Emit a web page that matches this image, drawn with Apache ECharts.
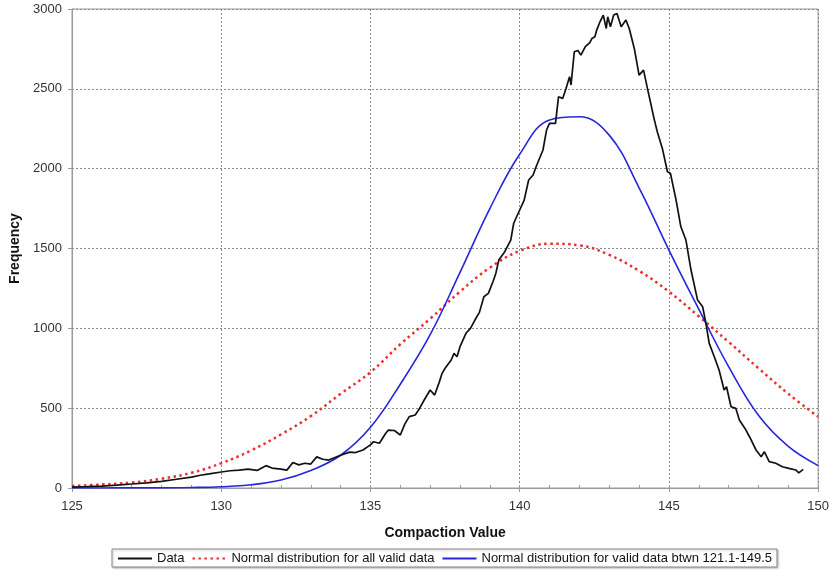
<!DOCTYPE html>
<html>
<head>
<meta charset="utf-8">
<script src="https://cdn.jsdelivr.net/npm/echarts@6/dist/echarts.min.js"></script>
<style>
  html, body { margin: 0; padding: 0; background: #fff; }
  #chart { width: 832px; height: 571px; }
</style>
</head>
<body>
<div id="chart"></div>
<script>
// Measured frequency per compaction value
var compactionX = [
  125.0, 125.5, 126.0, 126.5, 127.0, 127.5, 128.0, 128.5, 129.0, 129.3, 129.6, 130.0, 130.3, 130.6, 130.9,
  131.2, 131.5, 131.7, 132.0, 132.2, 132.4, 132.6, 132.8, 133.0, 133.2, 133.4, 133.6, 134.0, 134.3, 134.5,
  134.75, 135.0, 135.1, 135.3, 135.5, 135.6, 135.8, 136.0, 136.15, 136.3, 136.5, 136.65, 136.8, 137.0, 137.15,
  137.3, 137.4, 137.5, 137.7, 137.8, 137.9, 138.0, 138.2, 138.35, 138.5, 138.65, 138.8, 138.95, 139.1, 139.2,
  139.3, 139.5, 139.7, 139.8, 140.0, 140.15, 140.3, 140.45, 140.55, 140.78, 140.9, 141.0, 141.2, 141.3, 141.44,
  141.55, 141.67, 141.72, 141.83, 141.95, 142.05, 142.2, 142.35, 142.42, 142.52, 142.58, 142.69, 142.8, 142.9, 142.95,
  143.04, 143.15, 143.26, 143.4, 143.56, 143.67, 143.84, 144.0, 144.15, 144.28, 144.5, 144.61, 144.78, 144.95, 145.05,
  145.24, 145.4, 145.57, 145.74, 145.96, 146.13, 146.24, 146.35, 146.4, 146.52, 146.68, 146.85, 146.93, 147.08, 147.24,
  147.36, 147.58, 147.7, 147.92, 148.09, 148.2, 148.36, 148.58, 148.8, 149.02, 149.25, 149.35, 149.5
];
var dataFrequency = [
  5, 8, 12, 18, 25, 32, 42, 55, 68, 80, 88, 100, 108, 112, 118,
  110, 140, 125, 118, 112, 160, 145, 155, 150, 195, 180, 175, 205, 225, 222,
  238, 270, 290, 280, 340, 363, 360, 332, 400, 447, 457, 500, 551, 614, 582,
  660, 718, 750, 800, 843, 822, 885, 969, 1000, 1052, 1100, 1198, 1219, 1290, 1344,
  1428, 1480, 1553, 1658, 1741, 1803, 1929, 1960, 2012, 2117, 2242, 2284, 2284, 2450, 2440,
  2500, 2576, 2524, 2732, 2740, 2711, 2764, 2790, 2816, 2826, 2868, 2920, 2962, 2878, 2951,
  2889, 2962, 2972, 2889, 2931, 2878, 2753, 2586, 2617, 2503, 2315, 2231, 2127, 1981, 1971,
  1803, 1636, 1553, 1365, 1177, 1135, 1031, 906, 895, 822, 739, 614, 634, 509, 499,
  426, 363, 321, 238, 196, 227, 165, 155, 133, 123, 113, 95, 117
];

// Fitted normal curves, sampled at whole compaction values
var curveX = [125, 126, 127, 128, 129, 130, 131, 132, 133, 134, 135, 136, 137,
              138, 139, 140, 141, 142, 143, 144, 145, 146, 147, 148, 149, 150];
var normalAllValid = [13, 22, 34, 58, 95, 155, 235, 335, 450, 590, 725, 900, 1060,
                      1230, 1380, 1485, 1530, 1520, 1460, 1360, 1230, 1075, 915, 750, 590, 446];
var normalValidRange = [0, 0, 1, 1, 3, 8, 20, 50, 110, 205, 380, 650, 960,
                        1350, 1750, 2090, 2305, 2325, 2210, 1880, 1490, 1120, 760, 455, 260, 140];

var yTicks = [0, 500, 1000, 1500, 2000, 2500, 3000];
var xTicks = [125, 130, 135, 140, 145, 150];

function zip(xs, ys) {
  return xs.map(function (x, i) { return [x, ys[i]]; });
}

var FONT = "'Liberation Sans', Arial, sans-serif";
var chart = echarts.init(document.getElementById('chart'), null, { renderer: 'canvas' });

chart.setOption({
  animation: false,
  backgroundColor: '#ffffff',
  grid: {
    left: 72, right: 13, top: 9, bottom: 83,
    show: true, borderColor: '#9a9a9a', borderWidth: 1, backgroundColor: 'transparent'
  },
  xAxis: [{
    type: 'value',
    min: xTicks[0], max: xTicks[xTicks.length - 1], interval: 5,
    name: 'Compaction Value',
    nameLocation: 'middle', nameGap: 38,
    nameTextStyle: { fontFamily: FONT, fontSize: 14, fontWeight: 'bold', color: '#111' },
    axisLine: { show: true, lineStyle: { color: '#9a9a9a', width: 1 } },
    axisTick: { show: true, length: 4, lineStyle: { color: '#9a9a9a' } },
    axisLabel: { fontFamily: FONT, fontSize: 13, color: '#333', margin: 12 },
    splitLine: { show: true, lineStyle: { color: '#8a8a8a', type: [2, 2], width: 1 } }
  }, {
    // unit minor ticks drawn inside the plot
    type: 'value', position: 'bottom',
    min: 125, max: 150, interval: 1,
    axisLine: { show: false },
    axisTick: { show: true, inside: true, length: 3, lineStyle: { color: '#9a9a9a' } },
    axisLabel: { show: false },
    splitLine: { show: false }
  }],
  yAxis: {
    type: 'value',
    min: yTicks[0], max: yTicks[yTicks.length - 1], interval: 500,
    name: 'Frequency',
    nameLocation: 'middle', nameGap: 46,
    nameTextStyle: { fontFamily: FONT, fontSize: 14, fontWeight: 'bold', color: '#111' },
    axisLine: { show: true, lineStyle: { color: '#9a9a9a', width: 1 } },
    axisTick: { show: true, length: 4, lineStyle: { color: '#9a9a9a' } },
    axisLabel: {
      fontFamily: FONT, fontSize: 13, color: '#333', margin: 10,
      formatter: function (v) { return String(v); }
    },
    splitLine: { show: true, lineStyle: { color: '#8a8a8a', type: [2, 2], width: 1 } }
  },
  legend: {
    bottom: 4, left: 112,
    orient: 'horizontal',
    borderColor: '#8a8a8a', borderWidth: 1,
    padding: [3, 5, 2, 5],
    itemGap: 7, itemWidth: 34, itemHeight: 10,
    textStyle: { fontFamily: FONT, fontSize: 13, color: '#111' },
    itemStyle: { color: 'transparent', borderWidth: 0 },
    shadowColor: 'rgba(0,0,0,0.25)', shadowBlur: 2, shadowOffsetX: 1, shadowOffsetY: 1,
    backgroundColor: '#fff',
    data: ['Data', 'Normal distribution for all valid data', 'Normal distribution for valid data btwn 121.1-149.5']
  },
  series: [
    {
      name: 'Data', type: 'line', symbol: 'none',
      data: zip(compactionX, dataFrequency),
      lineStyle: { color: '#111', width: 1.7 },
      itemStyle: { color: '#111' },
      z: 3
    },
    {
      name: 'Normal distribution for all valid data', type: 'line', symbol: 'none',
      smooth: 0.4,
      data: zip(curveX, normalAllValid),
      lineStyle: { color: '#ee2d2d', width: 2.5, type: [2.5, 3.5] },
      itemStyle: { color: '#ee2d2d' },
      z: 2
    },
    {
      name: 'Normal distribution for valid data btwn 121.1-149.5', type: 'line', symbol: 'none',
      smooth: 0.4,
      data: zip(curveX, normalValidRange),
      lineStyle: { color: '#2626dd', width: 1.6 },
      itemStyle: { color: '#2626dd' },
      z: 2
    }
  ]
});
</script>
</body>
</html>
